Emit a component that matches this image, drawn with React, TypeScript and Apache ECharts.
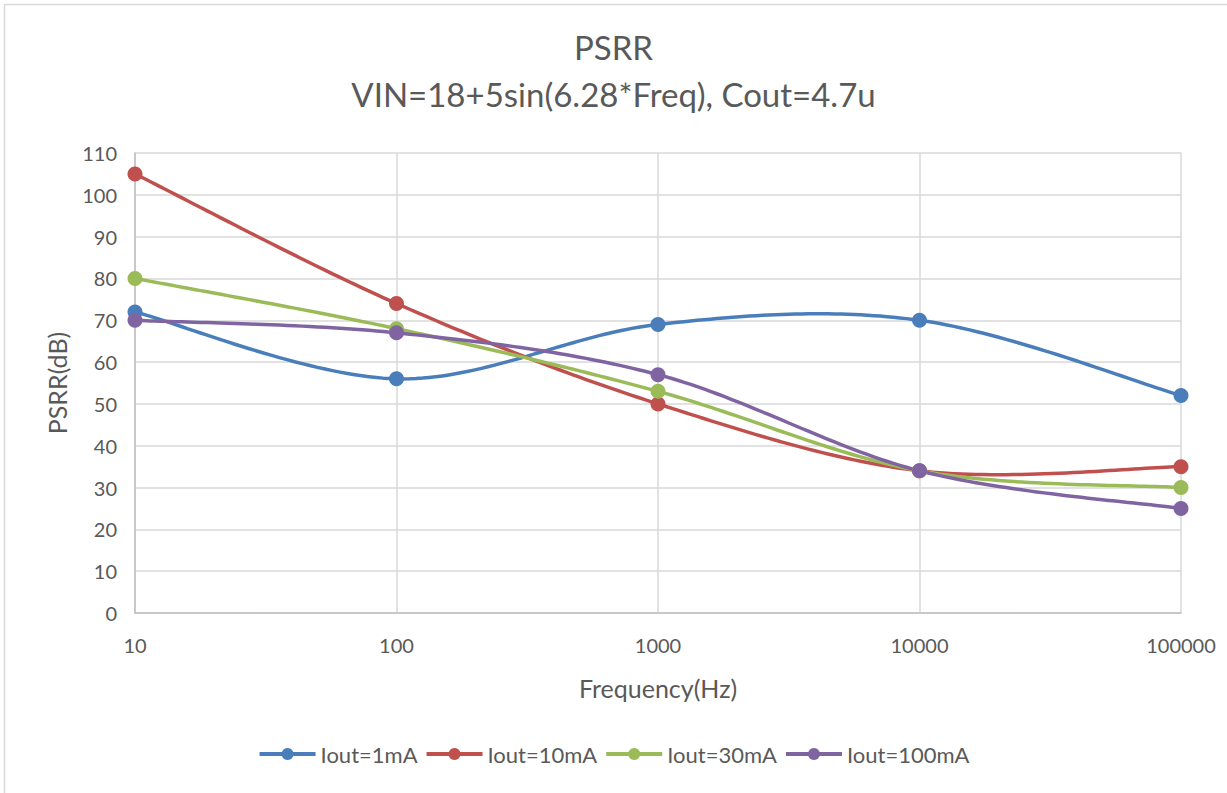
import React, { useEffect, useRef } from "react";
import * as echarts from "echarts";

const frequencies = [10, 100, 1000, 10000, 100000];
const seriesNames = ["Iout=1mA", "Iout=10mA", "Iout=30mA", "Iout=100mA"];
const iout1mA = [72, 56, 69, 70, 52];
const iout10mA = [105, 74, 50, 34, 35];
const iout30mA = [80, 68, 53, 34, 30];
const iout100mA = [70, 67, 57, 34, 25];
const colors = ["#4a7ebb", "#c0504d", "#9bbb59", "#8064a2"];

const FONT = "Lato, 'Noto Sans', sans-serif";
const TEXT = "#595959";

function catmull(pts: number[][]): number[][] {
  const out: number[][] = [];
  const n = pts.length;
  for (let i = 0; i < n - 1; i++) {
    const p0 = pts[Math.max(0, i - 1)];
    const p1 = pts[i];
    const p2 = pts[i + 1];
    const p3 = pts[Math.min(n - 1, i + 2)];
    const c1 = [p1[0] + (p2[0] - p0[0]) / 6, p1[1] + (p2[1] - p0[1]) / 6];
    const c2 = [p2[0] - (p3[0] - p1[0]) / 6, p2[1] - (p3[1] - p1[1]) / 6];
    const steps = 40;
    for (let s = i === 0 ? 0 : 1; s <= steps; s++) {
      const t = s / steps;
      const u = 1 - t;
      out.push([
        u * u * u * p1[0] + 3 * u * u * t * c1[0] + 3 * u * t * t * c2[0] + t * t * t * p2[0],
        u * u * u * p1[1] + 3 * u * u * t * c1[1] + 3 * u * t * t * c2[1] + t * t * t * p2[1],
      ]);
    }
  }
  return out;
}

export default function App() {
  const ref = useRef<HTMLDivElement>(null);
  useEffect(() => {
    if (!ref.current) return;
    const chart = echarts.init(ref.current, null, { renderer: "svg" });
    const values = [iout1mA, iout10mA, iout30mA, iout100mA];
    const curveSeries = seriesNames.map((name, i) => ({
      name: "curve" + i,
      type: "custom",
      coordinateSystem: "cartesian2d",
      silent: true,
      z: 2,
      data: [[frequencies[0], values[i][0]]],
      renderItem: (params: any, api: any) => {
        const pts = frequencies.map((f, j) => api.coord([f, values[i][j]]));
        return {
          type: "polyline",
          shape: { points: catmull(pts) },
          style: { stroke: colors[i], lineWidth: 3.5, fill: "none", lineJoin: "round", lineCap: "round" },
        };
      },
    }));
    const markerSeries = seriesNames.map((name, i) => ({
      name,
      type: "line",
      z: 3,
      symbol: "circle",
      symbolSize: 15,
      data: frequencies.map((f, j) => [f, values[i][j]]),
      lineStyle: { color: colors[i], width: 3.5, opacity: 0 },
      itemStyle: { color: colors[i] },
    }));
    chart.setOption({
      animation: false,
      backgroundColor: "#ffffff",
      textStyle: { fontFamily: FONT },
      title: {
        text: "PSRR\nVIN=18+5sin(6.28*Freq), Cout=4.7u",
        left: "center",
        top: 18,
        textStyle: { fontFamily: FONT, fontSize: 33, fontWeight: "normal", color: TEXT, lineHeight: 47 },
      },
      graphic: [
        {
          type: "rect",
          shape: { x: 4.5, y: 4.5, width: 1260, height: 820 },
          style: { fill: "none", stroke: "#d9d9d9", lineWidth: 1.5 },
          silent: true,
        },
      ],
      legend: {
        bottom: 23,
        left: "center",
        itemWidth: 56,
        itemHeight: 15,
        itemGap: 7,
        textStyle: { fontFamily: FONT, fontSize: 22, color: TEXT },
        data: seriesNames.map((name, i) => ({
          name,
          lineStyle: { color: colors[i], width: 4, opacity: 1 },
        })),
      },
      grid: { left: 135, right: 46, top: 153, bottom: 180 },
      xAxis: {
        type: "log",
        logBase: 10,
        min: 10,
        max: 100000,
        name: "Frequency(Hz)",
        nameLocation: "middle",
        nameGap: 62,
        nameTextStyle: { fontFamily: FONT, fontSize: 25, color: TEXT },
        axisLine: { lineStyle: { color: "#bfbfbf", width: 1.5 } },
        axisTick: { show: false },
        axisLabel: {
          fontFamily: FONT,
          fontSize: 20,
          color: TEXT,
          margin: 22,
          formatter: (v: number) => String(Math.round(v)),
        },
        splitLine: { show: true, lineStyle: { color: "#d9d9d9", width: 1.5 } },
      },
      yAxis: {
        type: "value",
        min: 0,
        max: 110,
        interval: 10,
        name: "PSRR(dB)",
        nameLocation: "middle",
        nameGap: 66,
        nameTextStyle: { fontFamily: FONT, fontSize: 25, color: TEXT },
        axisLine: { show: true, lineStyle: { color: "#bfbfbf", width: 1.5 } },
        axisTick: { show: false },
        axisLabel: { fontFamily: FONT, fontSize: 20, color: TEXT, margin: 18 },
        splitLine: { show: true, lineStyle: { color: "#d9d9d9", width: 1.5 } },
      },
      series: [...curveSeries, ...markerSeries],
    });
    return () => chart.dispose();
  }, []);
  return (
    <div
      ref={ref}
      style={{ position: "absolute", left: 0, top: 0, width: 1227, height: 793 }}
    />
  );
}
